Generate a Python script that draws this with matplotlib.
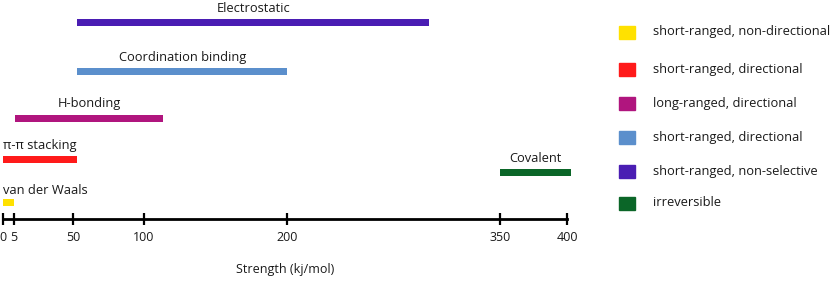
import numpy as np
import matplotlib.pyplot as plt
from matplotlib.patches import Rectangle

plt.rcParams['font.family'] = ['Open Sans', 'DejaVu Sans']

# interactions and their strength ranges (kJ/mol)
names = ['van der Waals', 'π-π stacking', 'H-bonding', 'Coordination binding', 'Electrostatic', 'Covalent']
starts = [0, 0, 6, 53, 53, 350]
ends = [5, 53, 113, 200, 300, 403]
kinds = ['short-ranged, non-directional', 'short-ranged, directional', 'long-ranged, directional',
         'short-ranged, directional', 'short-ranged, non-selective', 'irreversible']
ticks = [0, 5, 50, 100, 200, 350, 400]

colors = ['#ffe100', '#ff1a1a', '#b0157e', '#5b8fcc', '#4a1db3', '#0b6628']
rows = [202, 159, 118, 71, 22, 172]   # bar rows, pixel units from top

# piecewise axis: kJ/mol -> horizontal position
brk_v = [0, 5, 50, 100, 200, 350, 400, 450]
brk_p = [0, 11, 70, 141, 284, 497, 564, 631]

def fwd(v):
    return np.interp(v, brk_v, brk_p)

def inv(p):
    return np.interp(p, brk_p, brk_v)

W, H = 834, 282
fig = plt.figure(figsize=(W / 100, H / 100), dpi=100)
ax = fig.add_axes([3 / W, 63 / H, 564 / W, 219 / H])
ax.set_xscale('function', functions=(fwd, inv))
ax.set_xlim(0, 400)
ax.set_ylim(219, 0)

txt = '#1a1a1a'
for n, s, e, c, r in zip(names, starts, ends, colors, rows):
    ax.barh(r, e - s, left=s, height=7, color=c, clip_on=False)
    if n == 'van der Waals':
        ax.text(s, r - 12, n, ha='left', va='center', fontsize=9.3, color=txt)
    else:
        xm = inv((fwd(s) + fwd(e)) / 2)
        ax.text(xm, r - 14, n, ha='center', va='center', fontsize=9.3, color=txt)

for sp in ['top', 'left', 'right']:
    ax.spines[sp].set_visible(False)
ax.spines['bottom'].set_linewidth(2)
ax.set_yticks([])
ax.set_xticks(ticks)
ax.set_xticklabels([str(t) for t in ticks])
ax.xaxis.set_minor_locator(plt.NullLocator())
ax.tick_params(axis='x', direction='inout', length=9, width=1.6, pad=4, labelsize=9, labelcolor=txt)
ax.set_xlabel('Strength (kj/mol)', fontsize=9, color=txt, labelpad=14)

# legend drawn by hand in pixel space
lg = fig.add_axes([0, 0, 1, 1])
lg.set_xlim(0, W)
lg.set_ylim(H, 0)
lg.axis('off')
lrows = [32, 69, 103, 137, 171, 203]
for k, c, r in zip(kinds, colors, lrows):
    lg.add_patch(Rectangle((619, r - 6.5), 16, 13, color=c))
    lg.text(653, r, k, va='center', ha='left', fontsize=9.3, color=txt)

fig.savefig('out.png', dpi=100)
